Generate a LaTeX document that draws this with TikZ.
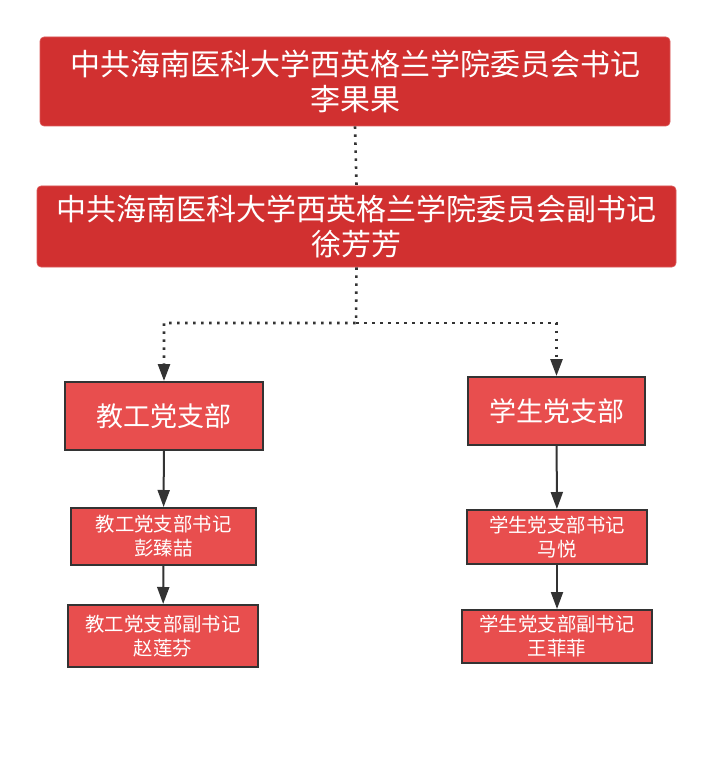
\documentclass[tikz,border=0pt]{standalone}
\usepackage{fontspec}
\newfontfamily\cjk{Noto Sans CJK SC}
\usetikzlibrary{arrows.meta}
\definecolor{topred}{RGB}{209,48,48}
\definecolor{boxred}{RGB}{232,78,78}
\definecolor{edge}{RGB}{51,51,51}
\begin{document}
\begin{tikzpicture}[x=1pt,y=-1pt,
  headbox/.style={fill=topred,draw=topred!80!white,line width=0.6pt,rounded corners=4pt,
    text=white,font=\cjk\fontsize{30}{35}\selectfont,align=center,inner sep=0pt},
  branchbox/.style={fill=boxred,draw=edge,line width=2pt,text=white,
    font=\cjk\fontsize{27}{32}\selectfont,align=center,inner sep=0pt},
  rolebox/.style={fill=boxred,draw=edge,line width=2pt,text=white,
    font=\cjk\fontsize{19.4}{24}\selectfont,align=center,inner sep=0pt},
  dotline/.style={draw=edge,line width=2.6pt,dash pattern=on 2.6pt off 5.4pt},
  arrowtip/.style={-{Triangle[length=17pt,width=12pt]}}]
\useasboundingbox (0,0) rectangle (702,759);
\node[headbox,minimum width=630,minimum height=89] (sec) at (355,81.5) {中共海南医科大学西英格兰学院委员会书记\\李果果};
\node[headbox,minimum width=639,minimum height=81] (vice) at (356.5,226.5) {中共海南医科大学西英格兰学院委员会副书记\\徐芳芳};
\node[branchbox,minimum width=198,minimum height=68] (jg) at (164,416) {教工党支部};
\node[branchbox,minimum width=177,minimum height=68] (xs) at (556.5,411) {学生党支部};
\node[rolebox,minimum width=185,minimum height=57] (jgsec) at (163.5,536.5) {教工党支部书记\\彭臻喆};
\node[rolebox,minimum width=190,minimum height=62] (jgvice) at (163,636) {教工党支部副书记\\赵莲芬};
\node[rolebox,minimum width=180,minimum height=54] (xssec) at (557,537) {学生党支部书记\\马悦};
\node[rolebox,minimum width=190,minimum height=53] (xsvice) at (557,636.5) {学生党支部副书记\\王菲菲};
\coordinate (split) at (356,323);
% dotted links
\draw[dotline] (sec.south) -- (vice.north);
\draw[dotline,arrowtip] (vice.south) -- (split) -| (jg.north);
\draw[dotline,arrowtip] (split) -| (xs.north);
% solid links
\draw[edge,line width=2pt,arrowtip] (jg) -- (jgsec);
\draw[edge,line width=2pt,arrowtip] (jgsec) -- (jgvice);
\draw[edge,line width=2pt,arrowtip] (xs) -- (xssec);
\draw[edge,line width=2pt,arrowtip] (xssec) -- (xsvice);
\end{tikzpicture}
\end{document}
